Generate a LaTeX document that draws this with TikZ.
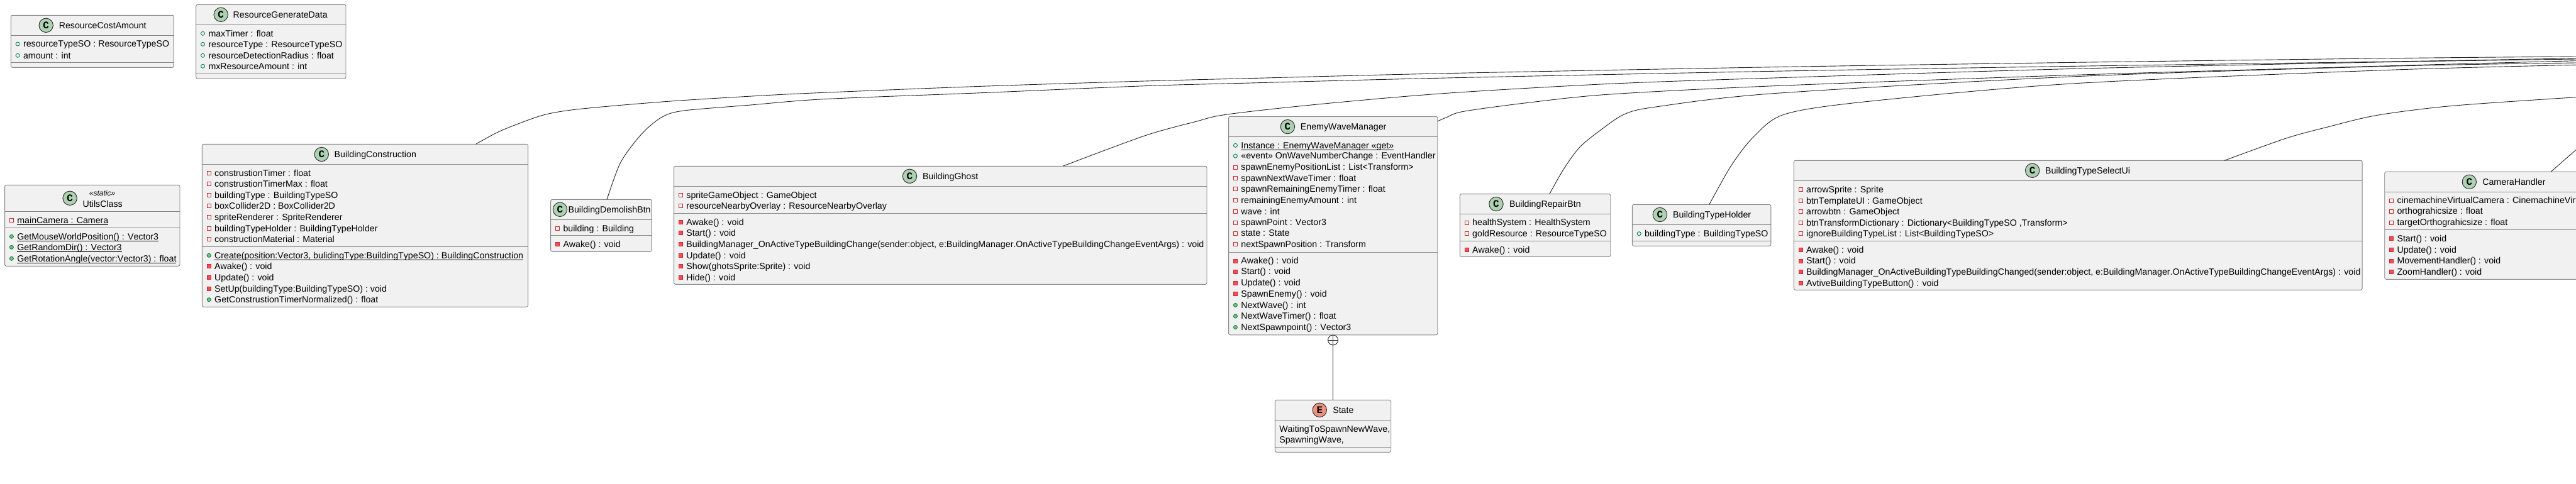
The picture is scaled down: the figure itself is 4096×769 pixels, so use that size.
\documentclass[tikz,border=0pt]{standalone}
\usepackage{fontspec}
\setmainfont[Ligatures={NoCommon},Kerning=Off]{Liberation Sans}
\newfontfamily\iconfont{Liberation Mono}
\definecolor{boxfill}{HTML}{F1F1F1}
\definecolor{boxline}{HTML}{868686}
\definecolor{classcirc}{HTML}{ADD1B2}
\definecolor{enumcirc}{HTML}{EB937F}
\definecolor{privline}{HTML}{C82930}
\definecolor{privfill}{HTML}{F24D5C}
\definecolor{publine}{HTML}{038048}
\definecolor{pubfill}{HTML}{84BE84}
\definecolor{connline}{HTML}{222222}
\newcount\itemno
\newsavebox\ulbox
\newcommand\ulin[1]{\sbox\ulbox{#1}\rlap{\rule[-2.6pt]{\wd\ulbox}{.8pt}}\usebox\ulbox}
\tikzset{
  classbox/.style={draw=boxline,fill=boxfill,line width=.95pt,rounded corners=2.5pt,inner sep=0,outer sep=0,rectangle},
  sepline/.style={draw=boxline,line width=.95pt},
  rowtext/.style={anchor=base west,inner sep=0,outer sep=0,font=\fontsize{14.2}{17}\selectfont},
  titletext/.style={rowtext},
  stereo/.style={anchor=base,inner sep=0,outer sep=0,font=\fontsize{12}{14}\itshape},
  headcirc/.style={circle,draw=black!85,line width=.9pt,minimum size=22.4pt,inner sep=0,outer sep=0,text=black,font=\iconfont\bfseries\fontsize{16}{16}\selectfont},
  privf/.style={rectangle,draw=privline,fill=boxfill,line width=.9pt,minimum size=6pt,inner sep=0},
  privm/.style={rectangle,draw=privline,fill=privfill,line width=.9pt,minimum size=6pt,inner sep=0},
  pubf/.style={circle,draw=publine,fill=boxfill,line width=.9pt,minimum size=6pt,inner sep=0},
  pubm/.style={circle,draw=publine,fill=pubfill,line width=.9pt,minimum size=6pt,inner sep=0},
  conn/.style={draw=connline,line width=.9pt},
}
% name, x1, y1, x2, y2
\newcommand\uclass[5]{%
  \pgfmathsetmacro\ubw{#4-(#2)}\pgfmathsetmacro\ubh{#5-(#3)}%
  \pgfmathsetmacro\ubx{(#2+#4)/2}\pgfmathsetmacro\uby{(#3+#5)/2}%
  \node[classbox,minimum width=\ubw pt,minimum height=\ubh pt] (#1) at (\ubx,\uby) {};}
\newcommand\hsep[2]{\draw[sepline] (#1.west |- 0,#2) -- (#1.east |- 0,#2);}
% box, circle x, circle y, title x, title, letter, colour
\newcommand\uhead[7]{%
  \node[headcirc,fill=#7] (#1-circ) at (#2,#3) {#6};
  \node[titletext] (#1-title) at (#4,#3+5) {#5};}
% box, icon style, y, text
\newcommand\urow[4]{%
  \global\advance\itemno by 1
  \node[#2,minimum size=6pt] (ic\the\itemno) at ([xshift=10.8pt]#1.west |- 0,#3) {};
  \node[rowtext] (tx\the\itemno) at ([xshift=19.8pt,yshift=-4.7pt]#1.west |- 0,#3) {#4};}
\begin{document}
\begin{tikzpicture}[x=1pt,y=-1pt]
\useasboundingbox (0,0) rectangle (4096,769);
\clip (0,0) rectangle (4096,769);

% ---------- nodes
\uclass{rca}{17.3}{24.3}{276.4}{107.3}
\hsep{rca}{56.3}\hsep{rca}{99.3}
\uhead{rca}{73.2}{40.3}{93.8}{ResourceCostAmount}{C}{classcirc}
\urow{rca}{pubf}{70}{resourceTypeSO : ResourceTypeSO}
\urow{rca}{pubf}{88.3}{amount : int}

\uclass{rgd}{311.7}{7.3}{550}{125.3}
\hsep{rgd}{39.3}\hsep{rgd}{117.3}
\uhead{rgd}{351.2}{23.3}{370.7}{ResourceGenerateData}{C}{classcirc}
\urow{rgd}{pubf}{53.3}{maxTimer : float}
\urow{rgd}{pubf}{70.3}{resourceType : ResourceTypeSO}
\urow{rgd}{pubf}{88.3}{resourceDetectionRadius : float}
\urow{rgd}{pubf}{105.3}{mxResourceAmount : int}

\uclass{utils}{7.6}{294.3}{286}{423.3}
\hsep{utils}{336.3}\hsep{utils}{362.3}
\node[headcirc,fill=classcirc] (utils-circ) at (111.1,315.3) {C};
\node[stereo] (utils-st) at (162.6,311) {«static»};
\node[titletext] (utils-title) at (131.7,329) {UtilsClass};
\urow{utils}{privf}{350.3}{\ulin{mainCamera : Camera}}
\urow{utils}{pubm}{376.3}{\ulin{GetMouseWorldPosition() : Vector3}}
\urow{utils}{pubm}{393.3}{\ulin{GetRandomDir() : Vector3}}
\urow{utils}{pubm}{411.3}{\ulin{GetRotationAngle(vector:Vector3) : float}}

\uclass{bc}{321.4}{229.3}{839.6}{488.3}
\hsep{bc}{261.3}\hsep{bc}{392.3}
\uhead{bc}{511.3}{245.5}{531.7}{BuildingConstruction}{C}{classcirc}
\urow{bc}{privf}{275.3}{construstionTimer : float}
\urow{bc}{privf}{292.3}{construstionTimerMax : float}
\urow{bc}{privf}{310.3}{buildingType : BuildingTypeSO}
\urow{bc}{privf}{327.3}{boxCollider2D : BoxCollider2D}
\urow{bc}{privf}{345.3}{spriteRenderer : SpriteRenderer}
\urow{bc}{privf}{363.3}{buildingTypeHolder : BuildingTypeHolder}
\urow{bc}{privf}{380.3}{constructionMaterial : Material}
\urow{bc}{pubm}{406.3}{\ulin{Create(position:Vector3, bulidingType:BuildingTypeSO) : BuildingConstruction}}
\urow{bc}{privm}{423.3}{Awake() : void}
\urow{bc}{privm}{441.3}{Update() : void}
\urow{bc}{privm}{459.3}{SetUp(buildingType:BuildingTypeSO) : void}
\urow{bc}{pubm}{476.7}{GetConstrustionTimerNormalized() : float}

\uclass{bdb}{875.7}{317.3}{1036.4}{400.3}
\hsep{bdb}{349.3}\hsep{bdb}{374.3}
\uhead{bdb}{890.4}{333.3}{903.6}{BuildingDemolishBtn}{C}{classcirc}
\urow{bdb}{privf}{363.3}{building : Building}
\urow{bdb}{privm}{388.3}{Awake() : void}

\uclass{bg}{1071.6}{264.3}{1919}{452.3}
\hsep{bg}{296.3}\hsep{bg}{339.3}
\uhead{bg}{1446.5}{280.3}{1467}{BuildingGhost}{C}{classcirc}
\urow{bg}{privf}{310.3}{spriteGameObject : GameObject}
\urow{bg}{privf}{327.3}{resourceNearbyOverlay : ResourceNearbyOverlay}
\urow{bg}{privm}{353.3}{Awake() : void}
\urow{bg}{privm}{370.3}{Start() : void}
\urow{bg}{privm}{388.3}{BuildingManager\_OnActiveTypeBuildingChange(sender:object, e:BuildingManager.OnActiveTypeBuildingChangeEventArgs) : void}
\urow{bg}{privm}{406.3}{Update() : void}
\urow{bg}{privm}{423.3}{Show(ghotsSprite:Sprite) : void}
\urow{bg}{privm}{441.3}{Hide() : void}

\uclass{ewm}{1953.6}{185.3}{2285.7}{532.8}
\hsep{ewm}{217.5}\hsep{ewm}{401.6}
\uhead{ewm}{2047.4}{201.6}{2067.9}{EnemyWaveManager}{C}{classcirc}
\urow{ewm}{pubf}{231.3}{\ulin{Instance : EnemyWaveManager «get»}}
\urow{ewm}{pubf}{248.1}{«event» OnWaveNumberChange : EventHandler}
\urow{ewm}{privf}{266.1}{spawnEnemyPositionList : List<Transform>}
\urow{ewm}{privf}{283.3}{spawnNextWaveTimer : float}
\urow{ewm}{privf}{300.9}{spawnRemainingEnemyTimer : float}
\urow{ewm}{privf}{318.9}{remainingEnemyAmount : int}
\urow{ewm}{privf}{336.5}{wave : int}
\urow{ewm}{privf}{354.1}{spawnPoint : Vector3}
\urow{ewm}{privf}{371}{state : State}
\urow{ewm}{privf}{388.9}{nextSpawnPosition : Transform}
\urow{ewm}{privm}{415}{Awake() : void}
\urow{ewm}{privm}{432.2}{Start() : void}
\urow{ewm}{privm}{450.2}{Update() : void}
\urow{ewm}{privm}{467.4}{SpawnEnemy() : void}
\urow{ewm}{pubm}{485.4}{NextWave() : int}
\urow{ewm}{pubm}{503}{NextWaveTimer() : float}
\urow{ewm}{pubm}{520.6}{NextSpawnpoint() : Vector3}

\uclass{state}{2027.3}{636.3}{2211.7}{719.3}
\hsep{state}{668.3}\hsep{state}{711.3}
\uhead{state}{2098.3}{652.3}{2119.3}{State}{E}{enumcirc}
\node[rowtext] (state-a) at (2034.3,687) {WaitingToSpawnNewWave,};
\node[rowtext] (state-b) at (2034.3,704) {SpawningWave,};

\uclass{brb}{2321.4}{308.6}{2560.7}{408.5}
\hsep{brb}{340.3}\hsep{brb}{383.6}
\uhead{brb}{2379}{324.6}{2400}{BuildingRepairBtn}{C}{classcirc}
\urow{brb}{privf}{354.1}{healthSystem : HealthSystem}
\urow{brb}{privf}{371.3}{goldResource : ResourceTypeSO}
\urow{brb}{privm}{397.4}{Awake() : void}

\uclass{bth}{2595.4}{325.4}{2815.8}{391.3}
\hsep{bth}{357.3}\hsep{bth}{383.3}
\uhead{bth}{2639.3}{341.5}{2660.2}{BuildingTypeHolder}{C}{classcirc}
\urow{bth}{pubf}{371.7}{buildingType : BuildingTypeSO}

\uclass{bts}{2852.3}{255.3}{3756}{461.3}
\hsep{bts}{287.3}\hsep{bts}{383.3}
\uhead{bts}{3231.6}{271.3}{3252}{BuildingTypeSelectUi}{C}{classcirc}
\urow{bts}{privf}{301.3}{arrowSprite : Sprite}
\urow{bts}{privf}{319.3}{btnTemplateUI : GameObject}
\urow{bts}{privf}{336.7}{arrowbtn : GameObject}
\urow{bts}{privf}{354.3}{btnTransformDictionary : Dictionary<BuildingTypeSO ,Transform>}
\urow{bts}{privf}{371.7}{ignoreBuildingTypeList : List<BuildingTypeSO>}
\urow{bts}{privm}{397.3}{Awake() : void}
\urow{bts}{privm}{415}{Start() : void}
\urow{bts}{privm}{432.7}{BuildingManager\_OnActiveBuildingTypeBuildingChanged(sender:object, e:BuildingManager.OnActiveTypeBuildingChangeEventArgs) : void}
\urow{bts}{privm}{450.3}{AvtiveBuildingTypeButton() : void}

\uclass{cam}{3791.7}{273.3}{4200}{444.3}
\hsep{cam}{305.3}\hsep{cam}{365.3}
\uhead{cam}{3926.3}{289.3}{3947.3}{CameraHandler}{C}{classcirc}
\urow{cam}{privf}{319}{cinemachineVirtualCamera : CinemachineVirt}
\urow{cam}{privf}{336}{orthograhicsize : float}
\urow{cam}{privf}{354}{targetOrthograhicsize : float}
\urow{cam}{privm}{379.3}{Start() : void}
\urow{cam}{privm}{397.3}{Update() : void}
\urow{cam}{privm}{415}{MovementHandler() : void}
\urow{cam}{privm}{432.3}{ZoomHandler() : void}

% ---------- connector ends at the picture's right edge
\coordinate (endbc) at (4096,90);
\coordinate (endbdb) at (4096,92.7);
\coordinate (endbg) at (4096,94);
\coordinate (endewm) at (4096,96.7);
\coordinate (endbrb) at (4096,100);
\coordinate (endbth) at (4096,103.3);
\coordinate (endbts) at (4096,154.7);
\coordinate (endcam) at (4096,238.3);

% ---------- connectors
\draw[conn] plot[smooth,tension=.5] coordinates {([xshift=435.2pt]bc.north west) (790,211) (823,197.3) (866.7,182.3) (923,173.3) (1056.7,161.7) (1190,153.3) (1300,147.7) (1560,137.3) (1820,129) (2000,124.3) (2300,116.7) (2820,106.7) (3300,99.3) (3800,92.7) (endbc)};
\draw[conn] plot[smooth,tension=.5] coordinates {([xshift=89.3pt]bdb.north west) (985,262) (1006.7,229.3) (1030,203.3) (1056.7,184) (1090,175.7) (1190,167.3) (1310,157.7) (1560,147.7) (1820,136.7) (2000,131.7) (2300,124) (2820,113.3) (3300,105.3) (3800,98) (endbdb)};
\draw[conn] plot[smooth,tension=.5] coordinates {([xshift=618.4pt]bg.north west) (1820,216) (1900,193.8) (1951,182) (2100,165.5) (2300,148.3) (2560,133.3) (2820,124) (3300,109.3) (3800,98.6) (endbg)};
\draw[conn] plot[smooth,tension=.5] coordinates {([yshift=-7.7pt]ewm.north east) (2300,186.7) (2327,177.3) (2430,163.3) (2560,150) (2820,136.7) (3300,119.3) (3800,104.7) (endewm)};
\draw[conn] plot[smooth,tension=.5] coordinates {([xshift=142.4pt]brb.north west) (2486.7,268.4) (2512,234) (2545,207) (2583,181.7) (2633,170) (2820,148.7) (3300,121.7) (3800,105.3) (endbrb)};
\draw[conn] plot[smooth,tension=.5] coordinates {([xshift=122.4pt]bth.north west) (2753,263) (2789,217) (2838,181.7) (2967,161.7) (3300,132.7) (3800,111.3) (endbth)};
\draw[conn] plot[smooth,tension=.5] coordinates {([xshift=684.7pt]bts.north west) (3635,220) (3700,202.3) (3780,183.3) (3900,168.3) (endbts)};
\draw[conn] ([xshift=264.3pt]cam.north west) -- (endcam);

% ---------- nesting connector
\node[circle,draw=connline,fill=white,line width=.9pt,minimum size=16pt,inner sep=0,outer sep=0] (plus) at (state.north |- 0,541) {};
\draw[conn] (plus.north) -- (plus.south);
\draw[conn] (plus.west) -- (plus.east);
\draw[conn] (plus.south) -- (state.north);
\end{tikzpicture}
\end{document}
